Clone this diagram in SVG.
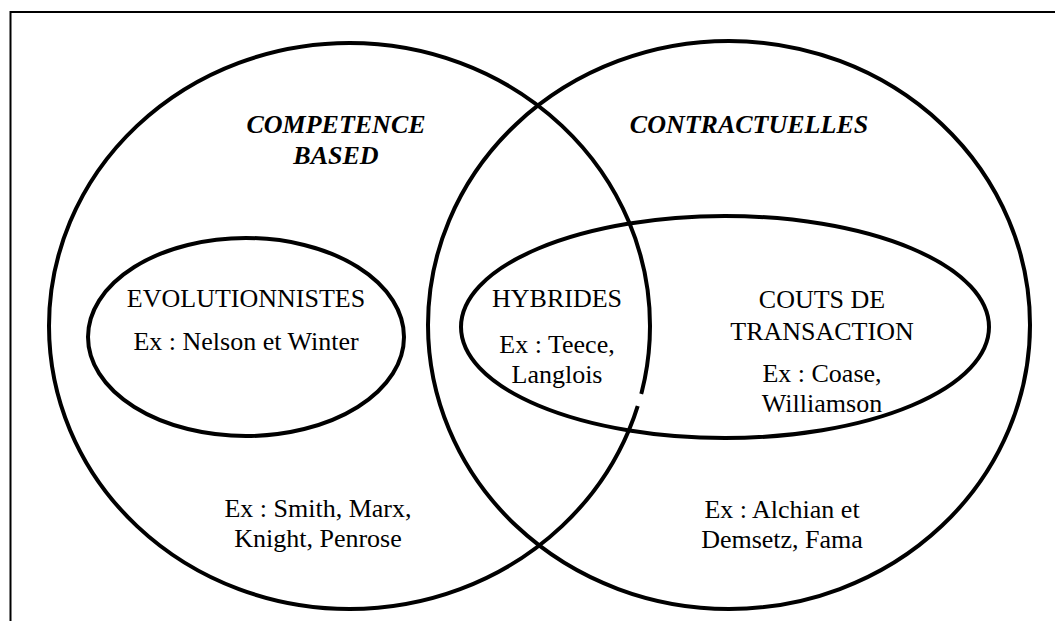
<svg xmlns="http://www.w3.org/2000/svg" width="1055" height="621" viewBox="0 0 1055 621">
<style>
.shape{fill:none;stroke:#000;stroke-width:4}
.frame{fill:none;stroke:#000;stroke-width:2}
text{font-family:"Liberation Serif","Times New Roman",serif;font-size:26px;fill:#000;text-anchor:middle}
.title{font-weight:bold;font-style:italic}
</style>
<rect x="0" y="0" width="1055" height="621" fill="#fff"/>
<path class="frame" d="M10.5 621 V12 H1055"/>
<g id="competence-based">
<ellipse class="shape" cx="349.5" cy="326" rx="300.5" ry="283"/>
<text class="title" x="336" y="133">COMPETENCE</text>
<text class="title" x="336" y="164">BASED</text>
<text x="318" y="517">Ex : Smith, Marx,</text>
<text x="318" y="547">Knight, Penrose</text>
</g>
<g id="contractuelles">
<ellipse class="shape" cx="729" cy="325" rx="301" ry="284"/>
<text class="title" x="749" y="133">CONTRACTUELLES</text>
<text x="782" y="518">Ex : Alchian et</text>
<text x="782" y="548">Demsetz, Fama</text>
</g>
<g id="evolutionnistes">
<ellipse class="shape" cx="246" cy="337" rx="158" ry="99"/>
<text x="246" y="307">EVOLUTIONNISTES</text>
<text x="246" y="350">Ex : Nelson et Winter</text>
</g>
<g id="couts-de-transaction">
<ellipse class="shape" cx="725" cy="327" rx="264" ry="111"/>
<text x="822" y="308">COUTS DE</text>
<text x="822" y="340">TRANSACTION</text>
<text x="822" y="382">Ex : Coase,</text>
<text x="822" y="412">Williamson</text>
</g>
<g id="hybrides">
<text x="557" y="307">HYBRIDES</text>
<text x="557" y="353">Ex : Teece,</text>
<text x="557" y="383">Langlois</text>
</g>
<path d="M641.4 394 L637.6 406" stroke="#fff" stroke-width="7" fill="none"/>
<g id="connectors"></g>
</svg>
